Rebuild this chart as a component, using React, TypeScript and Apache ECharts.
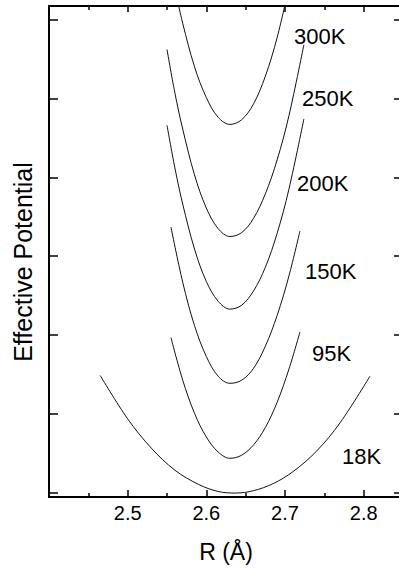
import React, { useEffect, useRef } from 'react';
import * as echarts from 'echarts';

// ---- data ----
const TEMPS = ['300K', '250K', '200K', '150K', '95K', '18K'];

const R_300 = [2.56, 2.57, 2.585, 2.6, 2.615, 2.63, 2.645, 2.66, 2.675, 2.69, 2.705];
const V_300 = [6.39, 5.95, 5.4, 5.01, 4.76, 4.67, 4.73, 4.93, 5.28, 5.77, 6.41];

const R_250 = [2.55, 2.56, 2.57, 2.585, 2.6, 2.615, 2.63, 2.645, 2.66, 2.675, 2.69, 2.705, 2.724];
const V_250 = [5.62, 5.07, 4.61, 4.03, 3.61, 3.35, 3.25, 3.3, 3.48, 3.79, 4.22, 4.78, 5.68];

const R_200 = [2.55, 2.56, 2.57, 2.585, 2.6, 2.615, 2.63, 2.645, 2.66, 2.675, 2.69, 2.705, 2.724];
const V_200 = [4.66, 4.12, 3.66, 3.09, 2.68, 2.43, 2.33, 2.38, 2.56, 2.86, 3.29, 3.85, 4.74];

const R_150 = [2.555, 2.57, 2.585, 2.6, 2.615, 2.63, 2.645, 2.66, 2.675, 2.69, 2.705, 2.719];
const V_150 = [3.37, 2.67, 2.12, 1.73, 1.48, 1.39, 1.43, 1.58, 1.86, 2.25, 2.75, 3.32];

const R_95 = [2.555, 2.57, 2.585, 2.6, 2.615, 2.63, 2.645, 2.66, 2.675, 2.69, 2.705, 2.719];
const V_95 = [1.97, 1.43, 1.01, 0.71, 0.52, 0.44, 0.48, 0.61, 0.83, 1.15, 1.57, 2.04];

const R_18 = [2.465, 2.5, 2.53, 2.56, 2.59, 2.615, 2.637, 2.66, 2.685, 2.71, 2.74, 2.77, 2.808];
const V_18 = [1.49, 0.94, 0.57, 0.29, 0.11, 0.02, 0.0, 0.03, 0.12, 0.27, 0.53, 0.89, 1.48];

const X_LABELS = [2.5, 2.6, 2.7, 2.8];
const X_MAJOR_TICKS = [2.4, 2.5, 2.6, 2.7, 2.8];
const X_MINOR_TICKS = [2.45, 2.55, 2.65, 2.75];
const Y_TICKS = [0, 1, 2, 3, 4, 5, 6];

const X_TITLE = 'R (Å)';
const Y_TITLE = 'Effective Potential';

// ---- layout / style ----
const W = 399;
const H = 568;
const FONT = '"Liberation Sans", Arial, Helvetica, sans-serif';
const LABEL_POS: [number, number][] = [
  [294, 36],
  [302, 98],
  [297, 183.5],
  [305, 271.5],
  [312, 353.5],
  [342, 456.5],
];

const CURVES: [number[], number[]][] = [
  [R_300, V_300],
  [R_250, V_250],
  [R_200, V_200],
  [R_150, V_150],
  [R_95, V_95],
  [R_18, V_18],
];

export default function App() {
  const ref = useRef<HTMLDivElement | null>(null);

  useEffect(() => {
    if (!ref.current) return;
    const chart = echarts.init(ref.current, undefined, { renderer: 'svg', width: W, height: H });

    const xBase = {
      type: 'value' as const,
      min: 2.4,
      max: 2.85,
      splitLine: { show: false },
    };
    const yBase = {
      type: 'value' as const,
      min: -0.05,
      max: 6.17,
      splitLine: { show: false },
      axisLabel: { show: false },
    };
    const tickStyle = { color: '#000', width: 1.5 };

    const option: any = {
      animation: false,
      backgroundColor: '#fff',
      grid: { left: 49, right: -4, top: 6, bottom: 71, outerBoundsMode: 'none', containLabel: false },
      xAxis: [
        {
          ...xBase,
          position: 'bottom',
          axisLine: { show: true, onZero: false, lineStyle: { color: '#000', width: 2 } },
          axisTick: { show: true, inside: true, length: 7, customValues: X_MAJOR_TICKS, lineStyle: tickStyle },
          axisLabel: {
            show: true,
            customValues: X_LABELS,
            formatter: (v: number) => v.toFixed(1),
            fontSize: 20,
            fontFamily: FONT,
            color: '#000',
            margin: 6,
          },
        },
        {
          ...xBase,
          position: 'top',
          axisLine: { show: true, onZero: false, lineStyle: { color: '#000', width: 2 } },
          axisTick: { show: true, inside: true, length: 6, customValues: X_LABELS, lineStyle: tickStyle },
          axisLabel: { show: false },
        },
        {
          ...xBase,
          position: 'bottom',
          axisLine: { show: false, onZero: false },
          axisTick: { show: true, inside: true, length: 4, customValues: X_MINOR_TICKS, lineStyle: tickStyle },
          axisLabel: { show: false },
        },
        {
          ...xBase,
          position: 'top',
          axisLine: { show: false, onZero: false },
          axisTick: { show: true, inside: true, length: 4, customValues: X_MINOR_TICKS, lineStyle: tickStyle },
          axisLabel: { show: false },
        },
      ],
      yAxis: [
        {
          ...yBase,
          position: 'left',
          axisLine: { show: true, onZero: false, lineStyle: { color: '#000', width: 2 } },
          axisTick: { show: true, inside: true, length: 9, customValues: Y_TICKS, lineStyle: tickStyle },
        },
        {
          ...yBase,
          position: 'right',
          axisLine: { show: true, onZero: false, lineStyle: { color: '#000', width: 2 } },
          axisTick: { show: true, inside: true, length: 9, customValues: Y_TICKS, lineStyle: tickStyle },
        },
      ],
      series: CURVES.map(([rs, vs], i) => ({
        name: TEMPS[i],
        type: 'line',
        xAxisIndex: 0,
        yAxisIndex: 0,
        data: rs.map((r, j) => [r, vs[j]]),
        showSymbol: false,
        symbol: 'none',
        smooth: 0.35,
        clip: true,
        lineStyle: { color: '#111', width: 1 },
        silent: true,
      })),
      graphic: [
        ...TEMPS.map((t, i) => ({
          type: 'text',
          x: LABEL_POS[i][0],
          y: LABEL_POS[i][1],
          style: {
            text: t,
            font: `22px ${FONT}`,
            fill: '#000',
            align: 'left',
            textAlign: 'left',
            verticalAlign: 'middle',
            textVerticalAlign: 'middle',
          },
        })),
        {
          type: 'text',
          x: 226,
          y: 552,
          style: {
            text: X_TITLE,
            font: `23px ${FONT}`,
            fill: '#000',
            align: 'center',
            textAlign: 'center',
            verticalAlign: 'middle',
            textVerticalAlign: 'middle',
          },
        },
        {
          type: 'text',
          x: 23,
          y: 262,
          rotation: Math.PI / 2,
          style: {
            text: Y_TITLE,
            font: `25px ${FONT}`,
            fill: '#000',
            align: 'center',
            textAlign: 'center',
            verticalAlign: 'middle',
            textVerticalAlign: 'middle',
          },
        },
      ],
    };

    chart.setOption(option);
    return () => {
      chart.dispose();
    };
  }, []);

  return (
    <div
      ref={ref}
      style={{ position: 'fixed', left: 0, top: 0, width: W, height: H, background: '#fff' }}
    />
  );
}
